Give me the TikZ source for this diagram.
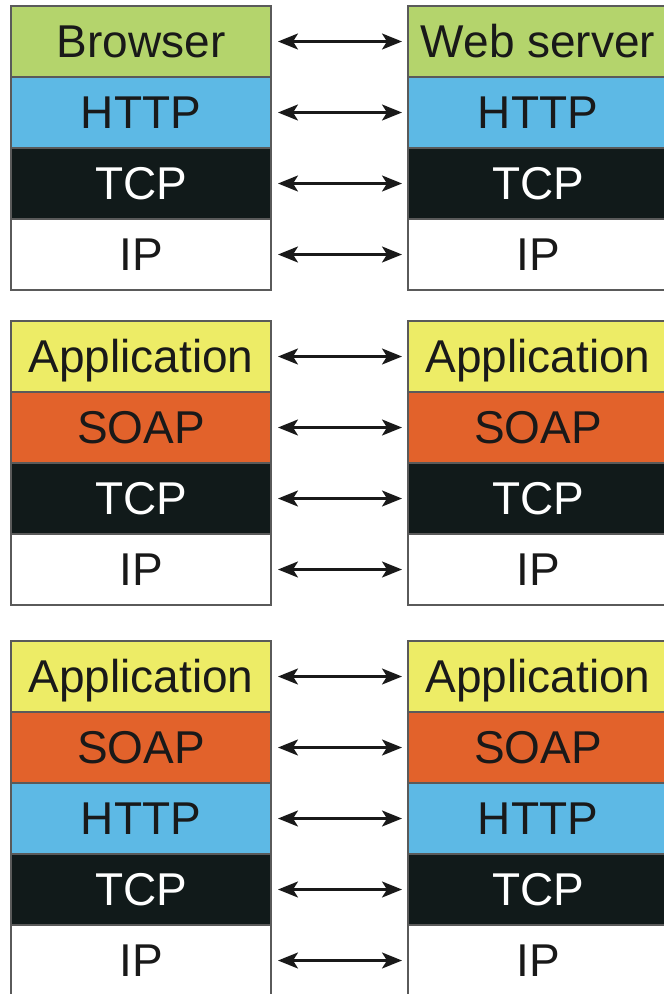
\documentclass[tikz,border=0pt]{standalone}
\usepackage{fontspec}
\setmainfont{Liberation Sans}
\usetikzlibrary{positioning,arrows.meta}
\definecolor{browsergreen}{HTML}{B4D46C}
\definecolor{httpblue}{HTML}{5DB9E5}
\definecolor{tcpblack}{HTML}{111A1A}
\definecolor{appyellow}{HTML}{EDEC66}
\definecolor{soaporange}{HTML}{E2622B}
\definecolor{edgegray}{HTML}{5A5A5A}
\tikzset{
	layer/.style={rectangle, draw=edgegray, line width=1.8pt, minimum width=260pt, minimum height=71pt,
		inner sep=0pt, outer sep=0pt, text height=32pt, text depth=0pt,
		font=\fontsize{46}{50}\selectfont, text=black!90},
	browser/.style={layer, fill=browsergreen},
	http/.style={layer, fill=httpblue},
	tcp/.style={layer, fill=tcpblack, text=white},
	ip/.style={layer, fill=white},
	app/.style={layer, fill=appyellow},
	soap/.style={layer, fill=soaporange},
	link/.style={line width=2.4pt, draw=black!90, shorten <=7pt, shorten >=6pt,
		{Stealth[length=20pt,width=16pt,inset=5pt]}-{Stealth[length=20pt,width=16pt,inset=5pt]}}
}

\begin{document}
\begin{tikzpicture}[x=1pt,y=1pt]
	\useasboundingbox (0,0) rectangle (664,-994);

	% browser / web server
	\node (g1l1)[browser] at (141,-41.5) {Browser};
	\node (g1l2)[http, below=0pt of g1l1] {HTTP};
	\node (g1l3)[tcp, below=0pt of g1l2] {TCP};
	\node (g1l4)[ip, below=0pt of g1l3] {IP};
	\node (g1r1)[browser] at (538,-41.5) {Web server};
	\node (g1r2)[http, below=0pt of g1r1] {HTTP};
	\node (g1r3)[tcp, below=0pt of g1r2] {TCP};
	\node (g1r4)[ip, below=0pt of g1r3] {IP};

	% SOAP over TCP
	\node (g2l1)[app] at (141,-356.5) {Application};
	\node (g2l2)[soap, below=0pt of g2l1] {SOAP};
	\node (g2l3)[tcp, below=0pt of g2l2] {TCP};
	\node (g2l4)[ip, below=0pt of g2l3] {IP};
	\node (g2r1)[app] at (538,-356.5) {Application};
	\node (g2r2)[soap, below=0pt of g2r1] {SOAP};
	\node (g2r3)[tcp, below=0pt of g2r2] {TCP};
	\node (g2r4)[ip, below=0pt of g2r3] {IP};

	% SOAP over HTTP
	\node (g3l1)[app] at (141,-676.5) {Application};
	\node (g3l2)[soap, below=0pt of g3l1] {SOAP};
	\node (g3l3)[http, below=0pt of g3l2] {HTTP};
	\node (g3l4)[tcp, below=0pt of g3l3] {TCP};
	\node (g3l5)[ip, below=0pt of g3l4] {IP};
	\node (g3r1)[app] at (538,-676.5) {Application};
	\node (g3r2)[soap, below=0pt of g3r1] {SOAP};
	\node (g3r3)[http, below=0pt of g3r2] {HTTP};
	\node (g3r4)[tcp, below=0pt of g3r3] {TCP};
	\node (g3r5)[ip, below=0pt of g3r4] {IP};

	\foreach \g/\n in {1/4, 2/4, 3/5}
		\foreach \i in {1,...,\n}
			\draw [link] (g\g l\i) -- (g\g r\i);
\end{tikzpicture}
\end{document}
